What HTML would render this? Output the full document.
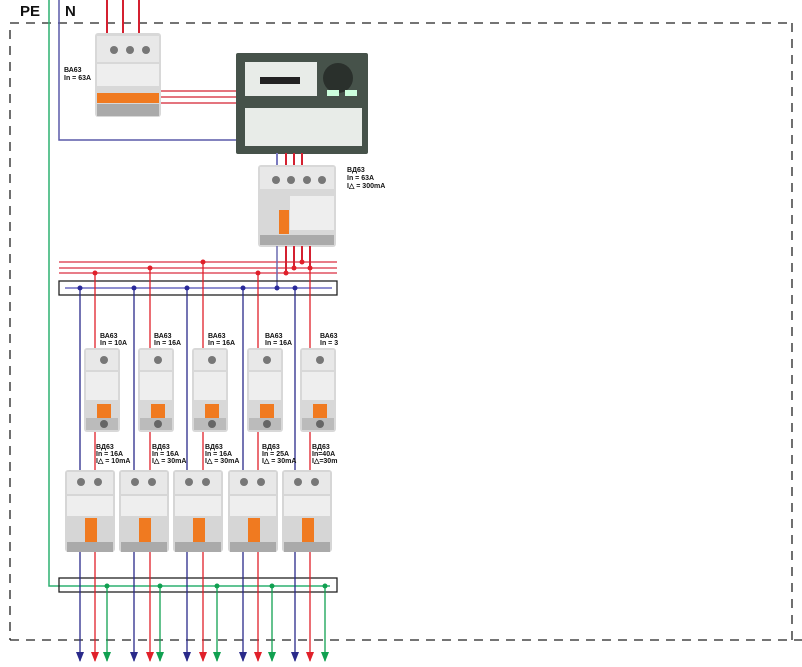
<!DOCTYPE html>
<html><head><meta charset="utf-8"><style>
html,body{margin:0;padding:0;background:#fff;}
svg{display:block}
text{font-family:"Liberation Sans",sans-serif;font-weight:bold;fill:#111}
.l{font-size:7px}
</style></head><body>
<svg width="802" height="667" viewBox="0 0 802 667" xmlns="http://www.w3.org/2000/svg">
<defs>
<marker id="ab" markerWidth="10" markerHeight="8" refX="9" refY="4" orient="auto" markerUnits="userSpaceOnUse"><path d="M0,0 L10,4 L0,8 z" fill="#2a2a8a"/></marker>
<marker id="ar" markerWidth="10" markerHeight="8" refX="9" refY="4" orient="auto" markerUnits="userSpaceOnUse"><path d="M0,0 L10,4 L0,8 z" fill="#e0202a"/></marker>
<marker id="ag" markerWidth="10" markerHeight="8" refX="9" refY="4" orient="auto" markerUnits="userSpaceOnUse"><path d="M0,0 L10,4 L0,8 z" fill="#10a050"/></marker>
<g id="mcb">
<rect x="0" y="0" width="36" height="84" rx="3" fill="#d8d8d8"/>
<rect x="2" y="2" width="32" height="20" fill="#e8e8e8"/>
<circle cx="20" cy="12" r="4" fill="#777"/>
<rect x="2" y="24" width="32" height="28" fill="#eee"/>
<rect x="13" y="56" width="14" height="14" fill="#f07a20"/>
<rect x="2" y="70" width="32" height="12" fill="#bbb"/>
<circle cx="20" cy="76" r="4" fill="#666"/>
</g>
<g id="rcd">
<rect x="0" y="0" width="50" height="82" rx="3" fill="#d6d6d6"/>
<rect x="2" y="2" width="46" height="22" fill="#e8e8e8"/>
<circle cx="16" cy="12" r="4" fill="#777"/><circle cx="33" cy="12" r="4" fill="#777"/>
<rect x="2" y="26" width="46" height="20" fill="#eee"/>
<rect x="20" y="48" width="12" height="24" fill="#f07a20"/>
<rect x="2" y="72" width="46" height="10" fill="#aaa"/>
</g>
</defs>

<g stroke="#222" stroke-width="1.3" stroke-dasharray="9,7" fill="none">
<line x1="10" y1="23" x2="792" y2="23"/>
<line x1="792" y1="23" x2="792" y2="640"/>
<line x1="10" y1="640" x2="802" y2="640"/>
<line x1="10" y1="30" x2="10" y2="640"/>
</g>

<text x="20" y="16" style="font-size:15px">PE</text>
<text x="65" y="16" style="font-size:15px">N</text>

<polyline points="49,0 49,586 330,586" fill="none" stroke="#2db070" stroke-width="1.5"/>
<polyline points="59,0 59,140 238,140" fill="none" stroke="#5a5aa8" stroke-width="1.5"/>
<g stroke="#d42030" stroke-width="2"><line x1="107" y1="0" x2="107" y2="35"/><line x1="123" y1="0" x2="123" y2="35"/><line x1="139" y1="0" x2="139" y2="35"/></g>
<rect x="95" y="33" width="66" height="84" rx="3" fill="#d8d8d8"/>
<rect x="97" y="36" width="62" height="26" fill="#e8e8e8"/>
<circle cx="114" cy="50" r="4" fill="#777"/><circle cx="130" cy="50" r="4" fill="#777"/><circle cx="146" cy="50" r="4" fill="#777"/>
<rect x="97" y="64" width="62" height="22" fill="#eee"/>
<rect x="97" y="93" width="62" height="10" fill="#f07a20"/>
<rect x="97" y="104" width="62" height="12" fill="#aaa"/>
<text class="l" x="64" y="72">ВА63</text><text class="l" x="64" y="80">In = 63A</text>
<g stroke="#d42030" stroke-width="1.3"><line x1="161" y1="91" x2="236" y2="91"/><line x1="161" y1="97" x2="236" y2="97"/><line x1="161" y1="103" x2="236" y2="103"/></g>
<rect x="236" y="53" width="132" height="101" rx="2" fill="#46524a"/>
<rect x="245" y="62" width="72" height="34" fill="#e8ece8"/>
<rect x="260" y="77" width="40" height="7" fill="#222"/>
<circle cx="338" cy="78" r="15" fill="#2a302c"/>
<rect x="327" y="90" width="12" height="6" fill="#cfd"/><rect x="345" y="90" width="12" height="6" fill="#cfd"/>
<rect x="245" y="108" width="117" height="38" fill="#e8ece8"/>
<line x1="277" y1="153" x2="277" y2="166" stroke="#7a7ac0" stroke-width="2"/>
<g stroke="#d42030" stroke-width="2"><line x1="286" y1="153" x2="286" y2="166"/><line x1="294" y1="153" x2="294" y2="166"/><line x1="302" y1="153" x2="302" y2="166"/></g>
<rect x="258" y="165" width="78" height="82" rx="3" fill="#d8d8d8"/>
<rect x="260" y="167" width="74" height="22" fill="#e8e8e8"/>
<circle cx="276" cy="180" r="4" fill="#777"/><circle cx="291" cy="180" r="4" fill="#777"/><circle cx="307" cy="180" r="4" fill="#777"/><circle cx="322" cy="180" r="4" fill="#777"/>
<rect x="290" y="196" width="44" height="34" fill="#eee"/>
<rect x="279" y="210" width="10" height="24" fill="#f07a20"/>
<rect x="260" y="235" width="74" height="10" fill="#aaa"/>
<text class="l" x="347" y="172">ВД63</text><text class="l" x="347" y="180">In = 63A</text><text class="l" x="347" y="188">I△ = 300mA</text>
<g stroke="#e05060" stroke-width="1.5"><line x1="59" y1="262" x2="337" y2="262"/><line x1="59" y1="268" x2="337" y2="268"/><line x1="59" y1="273" x2="337" y2="273"/></g>
<g stroke="#d42030" stroke-width="2"><line x1="286" y1="246" x2="286" y2="273"/><line x1="294" y1="246" x2="294" y2="268"/><line x1="302" y1="246" x2="302" y2="262"/><line x1="310" y1="246" x2="310" y2="268"/></g>
<line x1="277" y1="246" x2="277" y2="288" stroke="#6a6ab0" stroke-width="1.5"/>
<rect x="59" y="281" width="278" height="14" fill="none" stroke="#222" stroke-width="1.3"/>
<line x1="65" y1="288" x2="332" y2="288" stroke="#6a6ac0" stroke-width="1.5"/>
<rect x="59" y="578" width="278" height="14" fill="none" stroke="#222" stroke-width="1.3"/>

<g stroke="#2a2a8a" stroke-width="1.3">
<line x1="80" y1="288" x2="80" y2="661" marker-end="url(#ab)"/>
<line x1="134" y1="288" x2="134" y2="661" marker-end="url(#ab)"/>
<line x1="187" y1="288" x2="187" y2="661" marker-end="url(#ab)"/>
<line x1="243" y1="288" x2="243" y2="661" marker-end="url(#ab)"/>
<line x1="295" y1="288" x2="295" y2="661" marker-end="url(#ab)"/>
</g>
<g stroke="#e0202a" stroke-width="1.3">
<line x1="95" y1="273" x2="95" y2="661" marker-end="url(#ar)"/>
<line x1="150" y1="268" x2="150" y2="661" marker-end="url(#ar)"/>
<line x1="203" y1="262" x2="203" y2="661" marker-end="url(#ar)"/>
<line x1="258" y1="273" x2="258" y2="661" marker-end="url(#ar)"/>
<line x1="310" y1="268" x2="310" y2="661" marker-end="url(#ar)"/>
</g>
<g stroke="#10a050" stroke-width="1.3">
<line x1="107" y1="586" x2="107" y2="661" marker-end="url(#ag)"/>
<line x1="160" y1="586" x2="160" y2="661" marker-end="url(#ag)"/>
<line x1="217" y1="586" x2="217" y2="661" marker-end="url(#ag)"/>
<line x1="272" y1="586" x2="272" y2="661" marker-end="url(#ag)"/>
<line x1="325" y1="586" x2="325" y2="661" marker-end="url(#ag)"/>
</g>
<g fill="#2a2a9a"><circle cx="80" cy="288" r="2.5"/><circle cx="134" cy="288" r="2.5"/><circle cx="187" cy="288" r="2.5"/><circle cx="243" cy="288" r="2.5"/><circle cx="277" cy="288" r="2.5"/><circle cx="295" cy="288" r="2.5"/></g>
<g fill="#e0202a"><circle cx="95" cy="273" r="2.5"/><circle cx="150" cy="268" r="2.5"/><circle cx="203" cy="262" r="2.5"/><circle cx="258" cy="273" r="2.5"/><circle cx="286" cy="273" r="2.5"/><circle cx="294" cy="268" r="2.5"/><circle cx="302" cy="262" r="2.5"/><circle cx="310" cy="268" r="2.5"/></g>
<g fill="#10a050"><circle cx="107" cy="586" r="2.5"/><circle cx="160" cy="586" r="2.5"/><circle cx="217" cy="586" r="2.5"/><circle cx="272" cy="586" r="2.5"/><circle cx="325" cy="586" r="2.5"/></g>

<use href="#mcb" x="84" y="348"/><use href="#mcb" x="138" y="348"/><use href="#mcb" x="192" y="348"/><use href="#mcb" x="247" y="348"/><use href="#mcb" x="300" y="348"/>
<use href="#rcd" x="65" y="470"/><use href="#rcd" x="119" y="470"/><use href="#rcd" x="173" y="470"/><use href="#rcd" x="228" y="470"/><use href="#rcd" x="282" y="470"/>

<text class="l" x="100" y="338">ВА63</text><text class="l" x="100" y="345">In = 10A</text>
<text class="l" x="154" y="338">ВА63</text><text class="l" x="154" y="345">In = 16A</text>
<text class="l" x="208" y="338">ВА63</text><text class="l" x="208" y="345">In = 16A</text>
<text class="l" x="265" y="338">ВА63</text><text class="l" x="265" y="345">In = 16A</text>
<text class="l" x="320" y="338">ВА63</text><text class="l" x="320" y="345">In = 3</text>
<text class="l" x="96" y="449">ВД63</text><text class="l" x="96" y="456">In = 16A</text><text class="l" x="96" y="463">I△ = 10mA</text>
<text class="l" x="152" y="449">ВД63</text><text class="l" x="152" y="456">In = 16A</text><text class="l" x="152" y="463">I△ = 30mA</text>
<text class="l" x="205" y="449">ВД63</text><text class="l" x="205" y="456">In = 16A</text><text class="l" x="205" y="463">I△ = 30mA</text>
<text class="l" x="262" y="449">ВД63</text><text class="l" x="262" y="456">In = 25A</text><text class="l" x="262" y="463">I△ = 30mA</text>
<text class="l" x="312" y="449">ВД63</text><text class="l" x="312" y="456">In=40A</text><text class="l" x="312" y="463">I△=30m</text>
</svg>
</body></html>
